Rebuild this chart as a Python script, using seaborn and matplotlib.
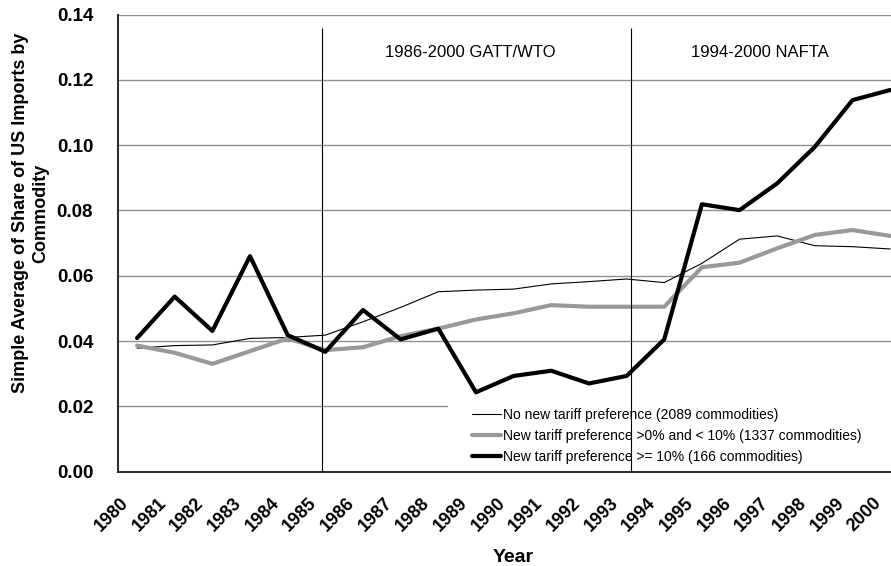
import numpy as np
import pandas as pd
import matplotlib
matplotlib.use("Agg")
import matplotlib.pyplot as plt
import matplotlib.transforms as mtransforms
import matplotlib.patches as mpatches
import seaborn as sns

years = list(range(1980, 2001))
no_pref = [0.0378, 0.0386, 0.0388, 0.0408, 0.0411, 0.0418, 0.0459, 0.0503, 0.0551, 0.0556,
           0.0559, 0.0575, 0.0582, 0.0590, 0.0579, 0.0638, 0.0712, 0.0722, 0.0692, 0.0689, 0.0682]
pref_low = [0.0386, 0.0364, 0.0330, 0.0369, 0.0408, 0.0372, 0.0381, 0.0415, 0.0438, 0.0466,
            0.0485, 0.0510, 0.0505, 0.0505, 0.0505, 0.0626, 0.0640, 0.0684, 0.0725, 0.0740, 0.0722]
pref_high = [0.0409, 0.0536, 0.0431, 0.0660, 0.0418, 0.0367, 0.0495, 0.0405, 0.0438, 0.0243,
             0.0293, 0.0309, 0.0270, 0.0293, 0.0405, 0.0819, 0.0801, 0.0883, 0.0995, 0.1138, 0.1169]
labels = ["No new tariff preference (2089 commodities)",
          "New tariff preference >0% and < 10% (1337 commodities)",
          "New tariff preference >= 10% (166 commodities)"]
yticks = [0.00, 0.02, 0.04, 0.06, 0.08, 0.10, 0.12, 0.14]
period_lines = [1984.91, 1993.12]
period_texts = ["1986-2000 GATT/WTO", "1994-2000 NAFTA"]
period_text_x = [1988.84, 1996.55]

sns.set_theme(style="white")
plt.rcParams['font.family'] = ['Liberation Sans', 'DejaVu Sans']
plt.rcParams.update({"text.color": "black", "axes.labelcolor": "black",
                     "xtick.color": "black", "ytick.color": "black"})

fig = plt.figure(figsize=(8.91, 5.66), dpi=100)
ax = fig.add_axes([0.1327, 0.1668, 0.8875, 0.8074])

df = pd.DataFrame({"Year": years, "a": no_pref, "b": pref_low, "c": pref_high})
sns.lineplot(data=df, x="Year", y="a", ax=ax, color="black", linewidth=0.8, label=labels[0], zorder=3)
sns.lineplot(data=df, x="Year", y="b", ax=ax, color="#999999", linewidth=3.0, label=labels[1], zorder=3)
sns.lineplot(data=df, x="Year", y="c", ax=ax, color="black", linewidth=3.0, label=labels[2], zorder=4)

ax.set_xlim(1979.5, 2000.5)
ax.set_ylim(0, 0.14)
ax.set_yticks(yticks)
ax.set_yticklabels([f"{v:.2f}" for v in yticks], fontsize=13.5, fontweight="bold")
for y in yticks[1:]:
    ax.axhline(y, color="#909090", linewidth=1.0, zorder=1)

# white legend background area (covers gridline as in the original)
ax.add_patch(mpatches.Rectangle((0.417, 0.02), 0.6, 0.135, transform=ax.transAxes,
                                facecolor="white", edgecolor="none", zorder=1.5))

ax.set_xticks(years)
ax.set_xticks([y + 0.5 for y in [1979] + years[:-1]], minor=True)
ax.set_xticklabels([str(y) for y in years], rotation=45, ha="right", va="center",
                   rotation_mode="anchor", fontsize=13, fontweight="bold")
ax.tick_params(axis="x", which="major", length=0, pad=0)
ax.tick_params(axis="x", which="minor", direction="in", length=7, width=1, color="#303030")
ax.tick_params(axis="y", which="major", direction="in", length=6, width=1, color="#303030", pad=18)
offset = mtransforms.ScaledTranslation(-11 / 100, -29 / 100, fig.dpi_scale_trans)
for lbl in ax.get_xticklabels():
    lbl.set_transform(lbl.get_transform() + offset)

for s in ["top", "right"]:
    ax.spines[s].set_visible(False)
for s in ["left", "bottom"]:
    ax.spines[s].set_color("#303030")
    ax.spines[s].set_linewidth(1.5)

ax.vlines(period_lines, 0, 0.1359, color="black", linewidth=0.8, zorder=6)
for tx, t in zip(period_text_x, period_texts):
    ax.text(tx, 0.1283, t, ha="center", va="center", fontsize=12)

ax.set_xlabel("Year", fontsize=14, fontweight="bold", labelpad=0)
ax.xaxis.set_label_coords(0.5, -0.17)
ax.set_ylabel("Simple Average of Share of US Imports by\nCommodity", fontsize=13,
              fontweight="bold")
ax.yaxis.set_label_coords(-0.0875, 0.566)

leg = ax.legend(loc="lower left", bbox_to_anchor=(0.44, 0.005), frameon=True, fontsize=10,
                handlelength=2.1, handletextpad=0.15, labelspacing=0.5, borderpad=0.4,
                borderaxespad=0)
leg.get_frame().set_facecolor("white")
leg.get_frame().set_edgecolor("none")
leg.get_frame().set_alpha(1)
leg.set_zorder(5)

fig.savefig("out.png", dpi=100)
